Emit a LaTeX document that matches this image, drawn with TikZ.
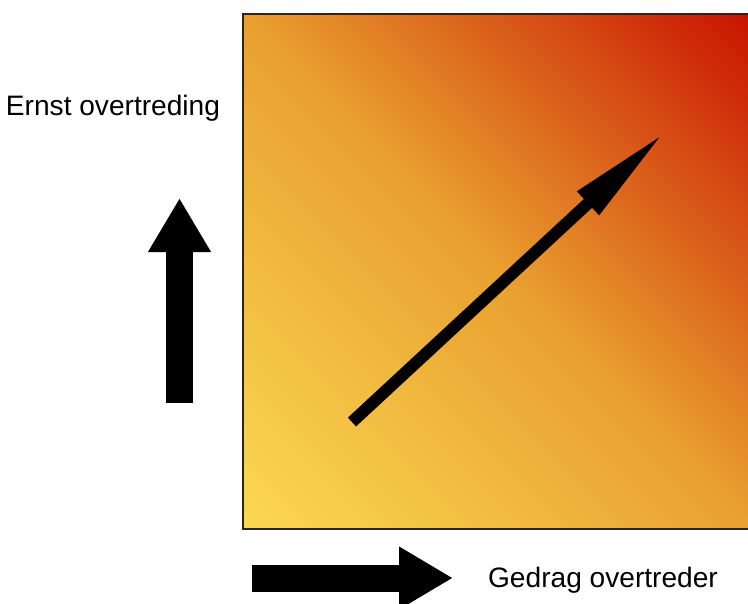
\documentclass[tikz,border=0pt]{standalone}
\usepackage{fontspec}
\setmainfont{Liberation Sans}
\usepackage{tikz}
\usetikzlibrary{arrows.meta}

\definecolor{geel}{RGB}{251,217,84}
\definecolor{oranje}{RGB}{233,160,48}
\definecolor{rood}{RGB}{200,16,0}

\begin{document}
\begin{tikzpicture}[
    kleur/.style  = {bottom color=geel, top color=rood, middle color=oranje},
    rand/.style   = {draw=black!85, line width=0.7pt},
    blokpijl/.style = {draw=black, line width=0.54cm,
                     -{Triangle[length=1.08cm, width=1.18cm]}},
    schuin/.style = {draw=black, line width=0.24cm,
                     -{Triangle[length=2.1cm, width=0.58cm]}},
    tekst/.style  = {font=\fontsize{16}{19}\selectfont, inner sep=1pt},
  ]
  \useasboundingbox (0,0) rectangle (14.96,12.06);

  %-------------------------------------------------- vlak met kleurverloop
  \coordinate (midden) at (10.01,6.63);
  \begin{scope}
    \clip (4.86,1.48) rectangle (15.16,11.78);
    \begin{scope}[transform canvas={rotate around={-45:(midden)}}]
      \shade[kleur] ([shift={(-7.29,-7.29)}]midden) rectangle
                    ([shift={(7.29,7.29)}]midden);
    \end{scope}
  \end{scope}
  \begin{scope}
    \clip (0,0) rectangle (14.96,12.06);
    \draw[rand] (4.86,1.48) rectangle (15.16,11.78);
  \end{scope}

  %-------------------------------------------------- assen
  \node[tekst] (ernst) at (2.26,9.90) {Ernst overtreding};
  \node[tekst, anchor=west] (gedrag) at (9.72,0.46) {Gedrag overtreder};

  \coordinate (vonder) at (3.59,4.00);
  \coordinate (vboven) at (3.59,8.10);
  \coordinate (hlinks) at (5.04,0.50);
  \coordinate (hrechts) at (9.06,0.50);

  \draw[blokpijl] (vonder) -- (vboven);
  \draw[blokpijl] (hlinks) -- (hrechts);

  %-------------------------------------------------- diagonale pijl
  \coordinate (start) at (7.04,3.62);
  \coordinate (eind) at (13.30,9.42);
  \draw[schuin] (start) -- (eind);
\end{tikzpicture}
\end{document}
